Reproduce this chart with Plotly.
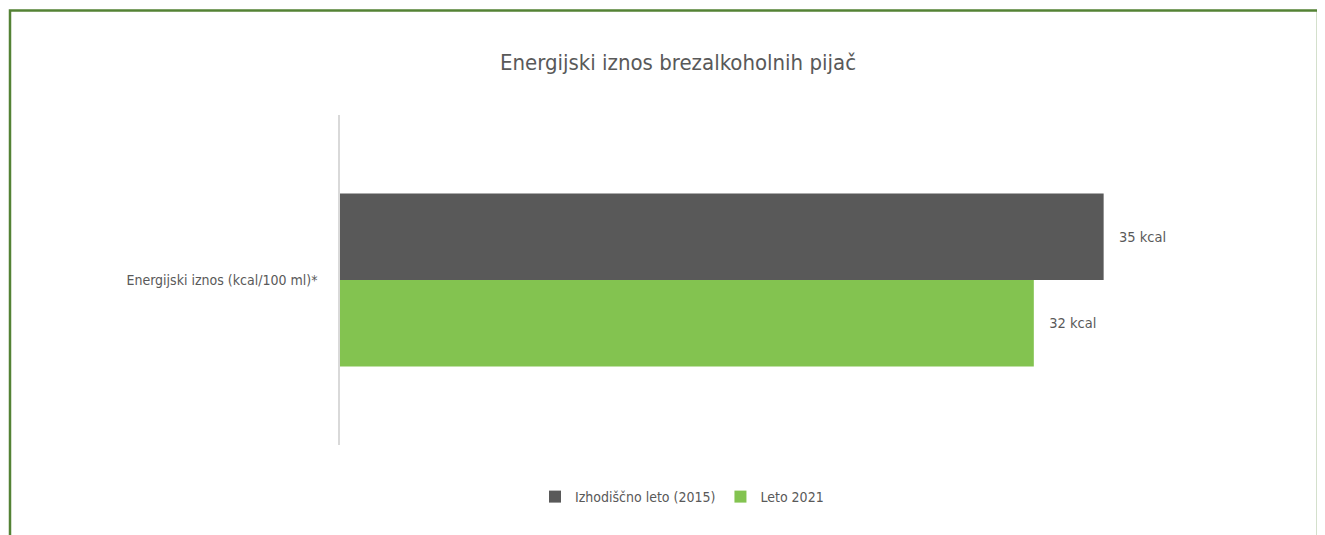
import plotly.graph_objects as go

categories = ["Energijski iznos (kcal/100 ml)*"]
series_names = ["Izhodiščno leto (2015)", "Leto 2021"]
series_values = [[35.0], [31.8]]
series_labels = [["35 kcal"], ["32 kcal"]]
series_colors = ["#595959", "#83C350"]
title_text = "Energijski iznos brezalkoholnih pijač"

FONT = "Liberation Sans Narrow, DejaVu Sans Condensed, Arial Narrow, sans-serif"
GREY = "#595959"
FS = 14.5

fig = go.Figure()
for name, vals, labs, col in zip(series_names, series_values, series_labels, series_colors):
    fig.add_trace(go.Bar(
        y=categories, x=vals, name=name, orientation="h",
        marker=dict(color=col, line=dict(width=0)),
        text=["   " + t for t in labs], textposition="outside",
        textfont=dict(family=FONT, size=FS, color=GREY),
        cliponaxis=False,
    ))

# page has an 8px body margin; figure sized to fit the window
OFF = 8
W, H = 1325 - OFF, 535 - OFF
L, T = 340 - OFF, 115 - OFF
pw, ph = 960, 330
R, B = W - L - pw, H - T - ph

def px_x(p):  # page pixel -> paper x
    return (p - OFF - L) / pw

def px_y(p):  # page pixel -> paper y
    return (T + ph - (p - OFF)) / ph

fig.update_layout(
    width=W, height=H,
    margin=dict(l=L, r=R, t=T, b=B, pad=0),
    paper_bgcolor="white", plot_bgcolor="white",
    barmode="group", bargap=0.476, bargroupgap=0,
    font=dict(family=FONT, color=GREY, size=FS),
    title=dict(text=title_text, x=(678 - OFF) / W, xref="container", xanchor="center",
               y=1 - (62 - OFF) / H, yanchor="middle",
               font=dict(family=FONT, size=22, color=GREY)),
    xaxis=dict(range=[0, 44], visible=False, showgrid=False, zeroline=False),
    yaxis=dict(autorange="reversed", showline=True, linecolor="#D9D9D9", linewidth=1.5,
               ticks="", showgrid=False, zeroline=False, ticklabelstandoff=18,
               tickfont=dict(family=FONT, size=14, color=GREY)),
    showlegend=True,
    legend=dict(orientation="h", x=px_x(535), xanchor="left",
                y=px_y(497), yanchor="middle", itemwidth=30,
                font=dict(family=FONT, size=14, color=GREY),
                itemclick=False, traceorder="normal"),
    shapes=[dict(type="rect", xref="paper", yref="paper",
                 x0=px_x(10), x1=px_x(1318), y0=px_y(560), y1=px_y(10.5),
                 line=dict(color="#548235", width=2.5), fillcolor="rgba(0,0,0,0)",
                 layer="below")],
)

fig.write_html("out.html")
